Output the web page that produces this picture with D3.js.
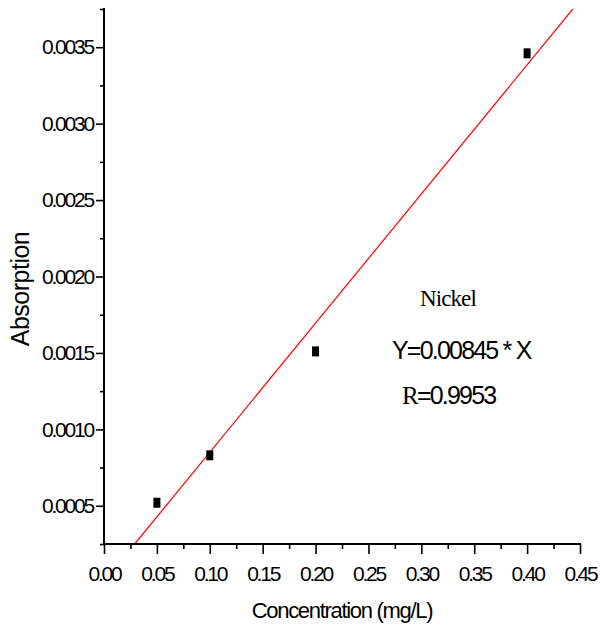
<!DOCTYPE html>
<html>
<head>
<meta charset="utf-8">
<script src="https://cdn.jsdelivr.net/npm/d3@7"></script>
<style>
  body { margin: 0; background: #fff; }
  svg { display: block; }
  .tick-label { font-family: "Liberation Sans", Arial, sans-serif; font-size: 21px; letter-spacing: -2.2px; fill: #000; }
</style>
</head>
<body>
<svg id="chart" width="600" height="630"></svg>
<script>
// measured points (concentration mg/L, absorption)
var concentration = [0.05, 0.10, 0.20, 0.40];
var absorption = [0.00052, 0.00083, 0.00151, 0.00346];

// fitted line shown on the chart
var fitSlope = 0.00845;
var fitIntercept = 0.000005;

var xTicks = [0.00, 0.05, 0.10, 0.15, 0.20, 0.25, 0.30, 0.35, 0.40, 0.45];
var yTicks = [0.0005, 0.0010, 0.0015, 0.0020, 0.0025, 0.0030, 0.0035];
var xMinor = [0.025, 0.075, 0.125, 0.175, 0.225, 0.275, 0.325, 0.375, 0.425];
var yMinor = [0.00025, 0.00075, 0.00125, 0.00175, 0.00225, 0.00275, 0.00325, 0.00375];

var annotations = ["Nickel", "Y=0.00845 * X", "R=0.9953"];

var margin = {top: 9, right: 20, bottom: 86, left: 104};
var svg = d3.select('#chart');
var w = 600 - margin.left - margin.right;
var h = 630 - margin.top - margin.bottom;

var g = svg.append('g').attr('transform', 'translate(' + margin.left + ',' + margin.top + ')');

var x = d3.scaleLinear().domain([0, 0.45]).range([0, w]);
var y = d3.scaleLinear().domain([0.00025, 0.00375]).range([h, 0]);

g.append('clipPath').attr('id', 'clip')
  .append('rect').attr('width', w).attr('height', h);

// fit line, from where it meets the bottom to where it meets the top
var x0 = (y.domain()[0] - fitIntercept) / fitSlope;
var x1 = (y.domain()[1] - fitIntercept) / fitSlope;
g.append('line')
  .attr('clip-path', 'url(#clip)')
  .attr('x1', x(x0)).attr('y1', y(fitIntercept + fitSlope * x0))
  .attr('x2', x(x1)).attr('y2', y(fitIntercept + fitSlope * x1))
  .attr('stroke', '#ff0000')
  .attr('stroke-width', 1.2);

// points
g.selectAll('rect.pt')
  .data(concentration)
  .enter()
  .append('rect')
  .attr('class', 'pt')
  .attr('x', function(d) { return x(d) - 3.5; })
  .attr('y', function(d, i) { return y(absorption[i]) - 5; })
  .attr('width', 7)
  .attr('height', 10)
  .attr('fill', '#000');

// x axis
var xAxis = g.append('g').attr('transform', 'translate(0,' + h + ')');
xAxis.call(d3.axisBottom(x).tickValues(xTicks).tickSize(10).tickFormat(d3.format('.2f')));
xAxis.append('g').call(d3.axisBottom(x).tickValues(xMinor).tickSize(5).tickFormat(''));

// y axis
var yAxis = g.append('g');
yAxis.call(d3.axisLeft(y).tickValues(yTicks).tickSize(8).tickPadding(3).tickFormat(d3.format('.4f')));
yAxis.append('g').call(d3.axisLeft(y).tickValues(yMinor).tickSize(4).tickFormat(''));

g.selectAll('.domain').attr('stroke', '#000').attr('stroke-width', 2);
g.selectAll('.tick line').attr('stroke', '#000').attr('stroke-width', 1.6);
g.selectAll('.tick text').attr('class', 'tick-label').attr('font-family', null).attr('font-size', null);
xAxis.selectAll('.tick text').attr('y', 22);
yAxis.selectAll('.domain').attr('d', 'M0,' + (h + 1) + 'V-1');
xAxis.selectAll('.domain').attr('d', 'M-1,0H' + (w + 1));

// axis titles
svg.append('text')
  .attr('x', margin.left + w / 2)
  .attr('y', 618)
  .attr('text-anchor', 'middle')
  .style('font-family', '"Liberation Sans", Arial, sans-serif')
  .style('font-size', '22px')
  .style('letter-spacing', '-1.3px')
  .text('Concentration (mg/L)');

svg.append('text')
  .attr('transform', 'translate(29,289) rotate(-90)')
  .attr('text-anchor', 'middle')
  .style('font-family', '"Liberation Sans", Arial, sans-serif')
  .style('font-size', '25px')
  .style('letter-spacing', '-0.5px')
  .text('Absorption');

// annotations
svg.append('text')
  .attr('x', 420).attr('y', 306)
  .style('font-family', '"Liberation Serif", "Times New Roman", serif')
  .style('font-size', '23px')
  .style('letter-spacing', '-0.9px')
  .text(annotations[0]);

svg.append('text')
  .attr('x', 392).attr('y', 359)
  .style('font-family', '"Liberation Sans", Arial, sans-serif')
  .style('font-size', '25px')
  .style('letter-spacing', '-1.8px')
  .text(annotations[1]);

var r = svg.append('text')
  .attr('x', 402).attr('y', 404)
  .style('font-size', '25px')
  .style('letter-spacing', '-1.8px');
r.append('tspan')
  .style('font-family', '"Liberation Serif", "Times New Roman", serif')
  .text(annotations[2].slice(0, 1));
r.append('tspan')
  .style('font-family', '"Liberation Sans", Arial, sans-serif')
  .text(annotations[2].slice(1));
</script>
</body>
</html>
